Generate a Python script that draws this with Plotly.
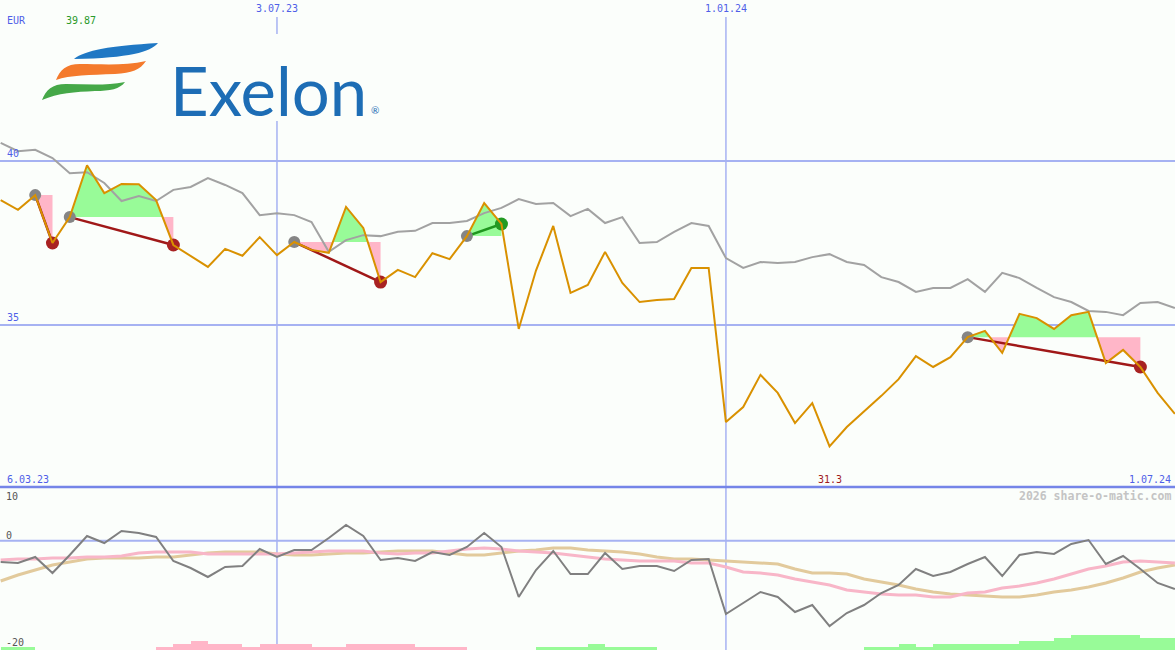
import re
import pandas as pd
import plotly.graph_objects as go

W, H = 1175, 650

# ---------------- data ----------------
dates = pd.date_range("2023-03-13", periods=69, freq="7D")

price = [38.81, 38.51, 38.96, 37.50, 38.29, 39.87, 39.02, 39.30, 39.29, 38.81,
         37.44, 37.10, 36.77, 37.32, 37.11, 37.68, 37.13, 37.53, 37.29, 37.20,
         38.60, 37.96, 36.31, 36.68, 36.46, 37.19, 37.01, 37.71, 38.72, 38.08,
         34.88, 36.66, 38.02, 35.98, 36.22, 37.23, 36.28, 35.70, 35.76, 35.79,
         36.74, 36.74, 32.04, 32.50, 33.48, 32.93, 32.01, 32.62, 31.30, 31.89,
         32.35, 32.84, 33.35, 34.05, 33.72, 34.02, 34.63, 34.82, 34.15, 35.34,
         35.21, 34.88, 35.30, 35.40, 33.84, 34.24, 33.72, 32.93, 32.29]

avg = [40.55, 40.30, 40.34, 40.09, 39.63, 39.66, 39.33, 38.78, 38.93, 38.78,
       39.12, 39.21, 39.48, 39.27, 39.02, 38.35, 38.41, 38.35, 38.14, 37.23,
       37.59, 37.74, 37.71, 37.84, 37.87, 38.11, 38.11, 38.17, 38.41, 38.57,
       38.84, 38.69, 38.72, 38.32, 38.54, 38.11, 38.29, 37.50, 37.53, 37.84,
       38.11, 38.02, 37.04, 36.74, 36.92, 36.89, 36.92, 37.07, 37.16, 36.92,
       36.83, 36.46, 36.31, 36.01, 36.13, 36.13, 36.40, 36.01, 36.59, 36.43,
       36.13, 35.85, 35.70, 35.43, 35.40, 35.30, 35.67, 35.70, 35.52]

osc = [-3.94, -4.13, -3.02, -5.98, -2.65, 0.87, -0.43, 1.80, 1.43, 0.69,
       -3.76, -5.06, -6.72, -4.87, -4.69, -1.54, -3.02, -1.72, -1.72, 0.50,
       2.91, 0.87, -3.57, -3.20, -3.76, -2.09, -2.65, -1.17, 1.43, -1.17,
       -10.43, -5.43, -1.91, -6.17, -6.17, -2.28, -5.24, -4.69, -4.69, -5.61,
       -3.57, -3.39, -13.57, -11.54, -9.50, -10.43, -13.20, -11.91, -15.80, -13.39,
       -11.91, -9.69, -8.20, -5.24, -6.54, -5.80, -4.31, -3.02, -6.54, -2.65,
       -2.09, -2.46, -0.61, 0.13, -4.31, -2.83, -5.24, -7.83, -8.94]

osc_pink = [-3.57, -3.39, -3.39, -3.20, -3.20, -3.02, -3.02, -2.83, -2.28, -2.09,
            -2.09, -2.09, -2.46, -2.46, -2.46, -2.46, -2.46, -2.28, -2.09, -1.91,
            -1.91, -1.91, -2.28, -2.46, -2.28, -2.28, -1.91, -1.54, -1.35, -1.54,
            -1.91, -2.09, -2.28, -2.65, -3.02, -3.39, -3.57, -3.76, -3.76, -3.76,
            -4.13, -4.13, -4.87, -5.80, -5.98, -6.35, -7.09, -7.65, -8.20, -9.13,
            -9.50, -9.87, -10.06, -10.06, -10.43, -10.43, -9.69, -9.50, -8.76, -8.39,
            -7.83, -7.09, -6.17, -5.24, -4.69, -3.94, -3.76, -3.94, -4.13]

osc_tan = [-7.46, -6.35, -5.43, -4.50, -3.94, -3.39, -3.20, -3.20, -3.20, -3.02,
           -3.02, -2.65, -2.28, -2.09, -2.09, -2.09, -2.46, -2.65, -2.65, -2.46,
           -2.28, -2.28, -2.09, -1.91, -1.91, -1.91, -2.28, -2.65, -2.65, -2.28,
           -1.91, -1.72, -1.35, -1.35, -1.72, -1.91, -2.09, -2.46, -3.02, -3.39,
           -3.39, -3.57, -3.76, -3.94, -4.13, -4.31, -5.24, -5.98, -5.98, -6.17,
           -7.09, -7.65, -8.20, -8.94, -9.50, -9.87, -10.06, -10.24, -10.43, -10.43,
           -10.06, -9.50, -9.13, -8.57, -7.83, -6.91, -5.80, -5.06, -4.50]

# weekly signal strength (interval i -> i+1): + green, - pink
signal = [1, 1, 0, 0, 0, 0, 0, 0, 0, -1,
          -2, -3, -2, -2, -1, -2, -2, -2, -1, -1,
          -2, -2, -2, -2, -1, -1, -1, 0, 0, 0,
          0, 1, 1, 1, 2, 1, 1, 1, 0, 0,
          0, 0, 0, 0, 0, 0, 0, 0, 0, 0,
          1, 1, 2, 1, 2, 2, 2, 2, 2, 3,
          3, 4, 5, 5, 5, 5, 4, 4]

pattern_start = [2, 4, 17, 27, 56]
pattern_end = [3, 10, 22, 29, 66]
pattern_dir = ["down", "down", "down", "up", "down"]

date_marks = ["2023-07-03", "2024-01-01"]
date_mark_labels = ["3.07.23", "1.01.24"]
range_start_label = "6.03.23"
range_end_label = "1.07.24"
currency = "EUR"
price_ticks = [40, 35]
osc_ticks = [10, 0, -20]
watermark = "2026 share-o-matic.com"

# ---------------- style ----------------
BG = "#fbfefb"
GRID = "#a6b2f2"
SEP = "#7585e8"
BLUE_TXT = "#4f5fe8"
ORANGE = "#d99100"
GREY = "#a2a2a2"
GREEN_FILL = "#98fb98"
PINK_FILL = "#ffb6c8"
MONO = "DejaVu Sans Mono"
LOW_DOMAIN = 163 / H
Y_MAIN = [30.061, 44.909]
Y_LOW = [-20.24, 9.944]
BAR_UNIT = 3 / 5.4

x_range = [dates[0] - pd.Timedelta(hours=6.6), dates[-1] + pd.Timedelta(hours=1)]

fig = go.Figure()

# ----- pattern fills -----
def clipped(s, e, level, above):
    xs, ys = [], []
    for i in range(s, e + 1):
        p = price[i]
        if i > s:
            p0 = price[i - 1]
            if (p0 - level) * (p - level) < 0:
                t = (level - p0) / (p - p0)
                xs.append(dates[i - 1] + (dates[i] - dates[i - 1]) * t)
                ys.append(level)
        xs.append(dates[i])
        ys.append(max(p, level) if above else min(p, level))
    xs += [dates[e], dates[s]]
    ys += [level, level]
    return xs, ys

for s, e in zip(pattern_start, pattern_end):
    lvl = price[s]
    for above, col in ((True, GREEN_FILL), (False, PINK_FILL)):
        xs, ys = clipped(s, e, lvl, above)
        fig.add_trace(go.Scatter(x=xs, y=ys, mode="lines", fill="toself",
                                 fillcolor=col, line=dict(width=0),
                                 hoverinfo="skip", xaxis="x", yaxis="y"))

# ----- average line -----
fig.add_trace(go.Scatter(x=dates, y=avg, mode="lines",
                         line=dict(color=GREY, width=2), xaxis="x", yaxis="y"))

# ----- trend lines and markers -----
for s, e, d in zip(pattern_start, pattern_end, pattern_dir):
    lc = "#a01818" if d == "down" else "#1e961e"
    fig.add_trace(go.Scatter(x=[dates[s], dates[e]], y=[price[s], price[e]],
                             mode="lines", line=dict(color=lc, width=2.5),
                             xaxis="x", yaxis="y"))
    fig.add_trace(go.Scatter(x=[dates[s]], y=[price[s]], mode="markers",
                             marker=dict(color="#858585", size=12),
                             xaxis="x", yaxis="y"))
    fig.add_trace(go.Scatter(x=[dates[e]], y=[price[e]], mode="markers",
                             marker=dict(color="#a82222" if d == "down" else "#229a22", size=13),
                             xaxis="x", yaxis="y"))

# ----- price line -----
fig.add_trace(go.Scatter(x=dates, y=price, mode="lines",
                         line=dict(color=ORANGE, width=2), xaxis="x", yaxis="y"))

# ----- lower panel -----
bx, by, bc = [], [], []
for i, v in enumerate(signal):
    if v != 0:
        bx.append(dates[i] + pd.Timedelta(days=3.5))
        by.append(abs(v) * BAR_UNIT)
        bc.append(GREEN_FILL if v > 0 else PINK_FILL)
fig.add_trace(go.Bar(x=bx, y=by, base=Y_LOW[0], marker=dict(color=bc, line=dict(width=0)),
                     width=7 * 86400000, xaxis="x", yaxis="y2"))

fig.add_trace(go.Scatter(x=dates, y=osc_tan, mode="lines",
                         line=dict(color="#e2ca9c", width=3), xaxis="x", yaxis="y2"))
fig.add_trace(go.Scatter(x=dates, y=osc_pink, mode="lines",
                         line=dict(color="#f8b6c8", width=3), xaxis="x", yaxis="y2"))
fig.add_trace(go.Scatter(x=dates, y=osc, mode="lines",
                         line=dict(color="#808080", width=2), xaxis="x", yaxis="y2"))

# ----- shapes -----
shapes = []
for t in price_ticks:
    shapes.append(dict(type="line", xref="paper", x0=0, x1=1, yref="y", y0=t, y1=t,
                       line=dict(color=GRID, width=2), layer="below"))
shapes.append(dict(type="line", xref="paper", x0=0, x1=1, yref="y2", y0=0, y1=0,
                   line=dict(color=GRID, width=2), layer="below"))
for d in date_marks:
    shapes.append(dict(type="line", xref="x", x0=d, x1=d, yref="paper", y0=0, y1=1 - 17 / H,
                       line=dict(color=GRID, width=1.5), layer="below"))
shapes.append(dict(type="line", xref="paper", x0=0, x1=1, yref="paper",
                   y0=LOW_DOMAIN, y1=LOW_DOMAIN, line=dict(color=SEP, width=2.5)))

def px_path(d):
    toks = re.findall(r"[A-Za-z]|-?\d+\.?\d*", d)
    out, nums = [], []
    for t in toks:
        if t.isalpha():
            out.append(t)
        else:
            nums.append(float(t))
            if len(nums) == 2:
                out.append(f"{nums[0] / W:.5f},{1 - nums[1] / H:.5f}")
                nums = []
    return " ".join(out)

# logo box
shapes.append(dict(type="rect", xref="paper", yref="paper", x0=30 / W, x1=390 / W,
                   y0=1 - 121 / H, y1=1 - 34 / H, fillcolor=BG, line=dict(width=0), layer="above"))
logo = [
    ("M 74 59 C 85 50 110 46 158 43 C 150 52 130 58 74 59 Z", "#1f78c4"),
    ("M 56 80 C 60 70 66 64 80 64 C 100 64 125 66 146 61 C 140 70 132 73 115 74 "
     "C 90 75 70 75 56 80 Z", "#f47a2c"),
    ("M 42 100 C 46 90 52 84 66 84 C 85 84 105 86 125 82 C 120 89 110 91 95 91 "
     "C 75 92 58 93 42 100 Z", "#45a848"),
]
for pth, col in logo:
    shapes.append(dict(type="path", xref="paper", yref="paper", path=px_path(pth),
                       fillcolor=col, line=dict(width=0), layer="above"))

# ----- annotations -----
def ann(text, x, y, color, size=10, xanchor="left", yanchor="middle", xref="paper",
        yref="paper", family=MONO, **kw):
    return dict(text=text, x=x, y=y, xref=xref, yref=yref, xanchor=xanchor, yanchor=yanchor,
                showarrow=False, font=dict(family=family, size=size, color=color), **kw)

def fmt(v):
    return f"{v:.2f}".rstrip("0").rstrip(".")

imin = price.index(min(price))
anns = [
    ann(currency, 5 / W, 1 - 21 / H, BLUE_TXT),
    ann(fmt(max(price)), 64 / W, 1 - 21 / H, "#2a9a2a"),
    ann(range_start_label, 5 / W, 1 - 479 / H, BLUE_TXT),
    ann(range_end_label, 1173 / W, 1 - 479 / H, BLUE_TXT, xanchor="right"),
    ann(fmt(min(price)), dates[imin], 1 - 479 / H, "#a01c1c", xanchor="center", xref="x"),
    ann("<b>" + watermark + "</b>", 1173 / W, 1 - 496 / H, "#c4c4c4", size=11.5, xanchor="right"),
    ann("Exelon", 168 / W, 1 - 90 / H, "#1d6db5", size=67, family="Lato"),
    ann("®", 369 / W, 1 - 110 / H, "#1d6db5", size=10, family="Lato"),
]
for lbl, d in zip(date_mark_labels, date_marks):
    anns.append(ann(lbl, d, 1 - 9 / H, BLUE_TXT, xanchor="center", xref="x"))
for t in price_ticks:
    anns.append(ann(str(t), 5 / W, t, BLUE_TXT, yanchor="bottom", yref="y"))
low_px = {10: 496, 0: 535, -20: 642}
for t in osc_ticks:
    anns.append(ann(str(t), 4 / W, 1 - low_px[t] / H, "#555555"))

fig.update_layout(
    width=W, height=H, margin=dict(l=0, r=0, t=0, b=0),
    paper_bgcolor=BG, plot_bgcolor=BG, showlegend=False, bargap=0,
    xaxis=dict(type="date", range=x_range, visible=False, domain=[0, 1], anchor="y2"),
    yaxis=dict(domain=[LOW_DOMAIN, 1], range=Y_MAIN, visible=False),
    yaxis2=dict(domain=[0, LOW_DOMAIN], range=Y_LOW, visible=False),
    shapes=shapes, annotations=anns,
)

fig.write_html("out.html", config={"displayModeBar": False},
               post_script="document.body.style.margin='0';document.body.style.background='%s';" % BG)
